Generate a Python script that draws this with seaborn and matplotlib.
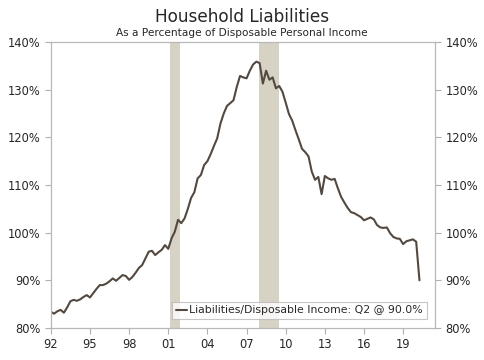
import matplotlib
matplotlib.use("Agg")
import matplotlib.pyplot as plt
import numpy as np
import pandas as pd
import seaborn as sns

# quarterly, 1992Q1 .. 2020Q2
liab_pct = [
    83.4, 83.0, 83.5, 83.8, 83.2, 84.3, 85.6, 85.9, 85.7, 86.0,
    86.5, 86.9, 86.4, 87.3, 88.2, 89.0, 89.0, 89.3, 89.8, 90.4,
    89.9, 90.5, 91.1, 90.9, 90.1, 90.7, 91.6, 92.6, 93.2, 94.6,
    96.0, 96.2, 95.3, 95.9, 96.4, 97.4, 96.6, 98.8, 100.2, 102.7,
    102.0, 103.0, 105.0, 107.3, 108.5, 111.4, 112.1, 114.2, 115.0, 116.5,
    118.2, 119.8, 122.9, 125.0, 126.6, 127.2, 127.8, 130.6, 132.9, 132.6,
    132.4, 134.0, 135.3, 135.9, 135.6, 131.3, 134.0, 132.1, 132.6, 130.3,
    130.8, 129.6, 127.3, 124.9, 123.5, 121.5, 119.6, 117.6, 116.9, 116.0,
    112.8, 111.1, 111.7, 108.1, 111.9, 111.4, 111.1, 111.3, 109.3, 107.5,
    106.3, 105.2, 104.3, 104.1, 103.7, 103.3, 102.6, 102.9, 103.2, 102.8,
    101.6, 101.1, 101.0, 101.1, 99.9, 99.1, 98.8, 98.7, 97.6, 98.2,
    98.4, 98.6, 98.1, 90.0,
]
start_year = 1992
recessions = [(2001.17, 2001.92), (2007.92, 2009.5)]
x_ticks = [1992, 1995, 1998, 2001, 2004, 2007, 2010, 2013, 2016, 2019]
y_ticks = [80, 90, 100, 110, 120, 130, 140]

t = start_year + np.arange(len(liab_pct)) / 4
df = pd.DataFrame({"date": t, "value": liab_pct})

sns.set_style("white")
plt.rcParams["font.family"] = ["DejaVu Sans"]

fig = plt.figure(figsize=(4.84, 3.6), dpi=100)
ax = fig.add_axes([0.105, 0.089, 0.794, 0.794])

for a, b in recessions:
    ax.axvspan(a, b, color="#d6d2c4", lw=0, zorder=0)

sns.lineplot(data=df, x="date", y="value", ax=ax, color="#54493f", lw=1.5,
             label="Liabilities/Disposable Income: Q2 @ 90.0%")

ax.set_xlim(1992, 2021.45)
ax.set_ylim(80, 140)
ax.set_xticks(x_ticks)
ax.set_xticklabels([f"{y % 100:02d}" for y in x_ticks])
ax.set_yticks(y_ticks)
ax.set_yticklabels([f"{v}%" for v in y_ticks])
ax.set_xlabel("")
ax.set_ylabel("")
ax.tick_params(axis="both", labelsize=8.3, length=4, width=0.8, color="#b0b0b0",
               direction="out", left=True, bottom=True)
ax.tick_params(axis="y", right=True, labelright=True)
for s in ax.spines.values():
    s.set_color("#b8b8b8")
    s.set_linewidth(0.9)

leg = ax.legend(loc="lower right", fontsize=7.8, frameon=True, fancybox=False,
                handlelength=1.0, handletextpad=0.2, borderpad=0.35,
                bbox_to_anchor=(0.992, 0.012))
leg.get_frame().set_edgecolor("#b8b8b8")
leg.get_frame().set_linewidth(0.8)

fig.text(0.5, 0.94, "Household Liabilities", ha="center", fontsize=12.2)
fig.text(0.5, 0.9, "As a Percentage of Disposable Personal Income", ha="center", fontsize=7.6)

fig.savefig("out.png", dpi=100)
